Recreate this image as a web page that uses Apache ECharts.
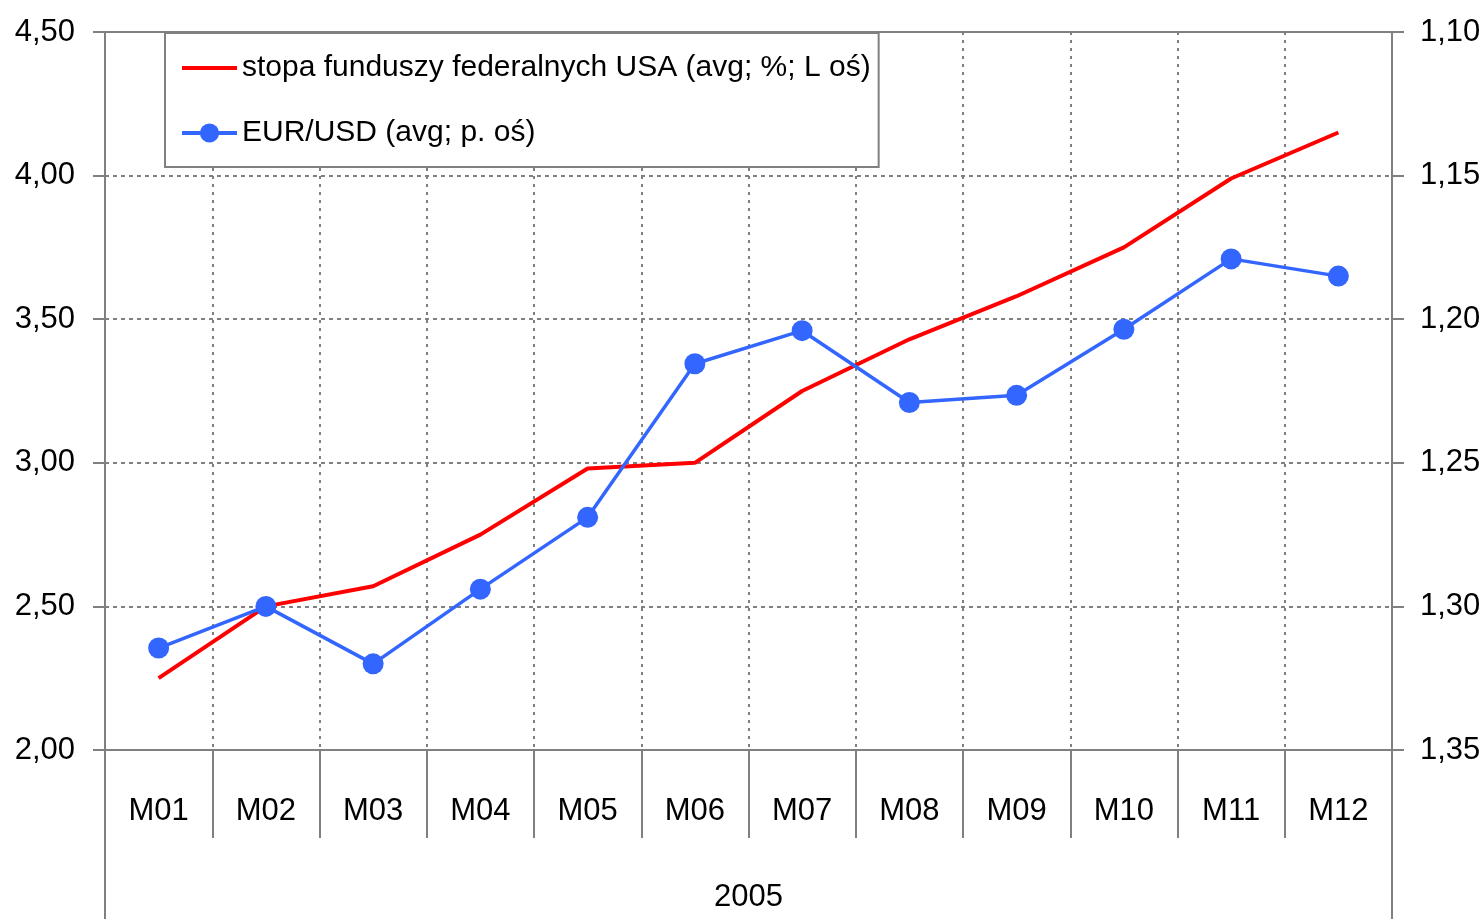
<!DOCTYPE html>
<html>
<head>
<meta charset="utf-8">
<title>Stopa FED vs EUR/USD 2005</title>
<script src="https://cdn.jsdelivr.net/npm/echarts@6/dist/echarts.min.js"></script>
<style>
    html, body { margin: 0; padding: 0; background: #fff; }
    #chart { width: 1482px; height: 919px; }
</style>
</head>
<body>
<div id="chart"></div>
<script>
// data
const months = ['M01', 'M02', 'M03', 'M04', 'M05', 'M06', 'M07', 'M08', 'M09', 'M10', 'M11', 'M12']
const yearLabel = ['2005']
const fedRate = [2.25, 2.50, 2.57, 2.75, 2.98, 3.00, 3.25, 3.43, 3.58, 3.75, 3.99, 4.15]
const eurUsd = [1.3145, 1.300, 1.320, 1.294, 1.269, 1.2155, 1.204, 1.229, 1.2265, 1.2035, 1.179, 1.185]
const seriesNames = ['stopa funduszy federalnych USA (avg; %; L oś)', 'EUR/USD (avg; p. oś)']

const font = "'Liberation Sans', Arial, sans-serif"
const gray = '#808080'
const comma = v => v.toFixed(2).replace('.', ',')

const myChart = echarts.init(document.getElementById('chart'))
const option = {
    animation: false,
    textStyle: { fontFamily: font },
    grid: {
        left: 105,
        right: 90,
        top: 32,
        bottom: 169,
        outerBoundsMode: 'none',
        containLabel: false,
        show: true,
        borderColor: gray,
        borderWidth: 2
    },
    legend: {
        orient: 'vertical',
        left: 165,
        top: 33,
        backgroundColor: '#fff',
        borderColor: gray,
        borderWidth: 2,
        borderRadius: 0,
        padding: [17, 8, 16, 15],
        itemGap: 29,
        itemWidth: 55,
        itemHeight: 24,
        textStyle: { fontSize: 30, lineHeight: 36, color: '#000', fontFamily: font },
        data: [
            { name: seriesNames[0], icon: 'path://M0,0 L55,0 L55,4 L0,4 Z' },
            { name: seriesNames[1], lineStyle: { width: 4 } }
        ]
    },
    xAxis: [
        {
            type: 'category',
            data: months,
            boundaryGap: true,
            axisLine: { lineStyle: { color: gray, width: 2 } },
            axisTick: { show: true, interval: 0, length: 88, lineStyle: { color: gray, width: 2 } },
            axisLabel: { interval: 0, margin: 46, fontSize: 31, color: '#000', fontFamily: font },
            splitLine: { show: true, interval: 0, lineStyle: { color: gray, width: 2, type: [3, 5] } }
        },
        {
            type: 'category',
            data: yearLabel,
            position: 'bottom',
            boundaryGap: true,
            axisLine: { show: false },
            axisTick: { show: true, length: 169, lineStyle: { color: gray, width: 2 } },
            axisLabel: { margin: 132, fontSize: 31, color: '#000', fontFamily: font },
            splitLine: { show: false }
        }
    ],
    yAxis: [
        {
            type: 'value',
            min: 2,
            max: 4.5,
            interval: 0.5,
            axisLine: { show: true, lineStyle: { color: gray, width: 2 } },
            axisTick: { show: true, length: 12, lineStyle: { color: gray, width: 2 } },
            axisLabel: { margin: 30, fontSize: 31, color: '#000', fontFamily: font, formatter: comma },
            splitLine: { show: true, lineStyle: { color: gray, width: 2, type: [4, 4] } }
        },
        {
            type: 'value',
            inverse: true,
            min: 1.10,
            max: 1.35,
            interval: 0.05,
            axisLine: { show: true, lineStyle: { color: gray, width: 2 } },
            axisTick: { show: true, length: 12, lineStyle: { color: gray, width: 2 } },
            axisLabel: { margin: 28, fontSize: 31, color: '#000', fontFamily: font, formatter: comma },
            splitLine: { show: false }
        }
    ],
    series: [
        {
            name: seriesNames[0],
            type: 'line',
            xAxisIndex: 0,
            yAxisIndex: 0,
            data: fedRate,
            symbol: 'none',
            lineStyle: { color: '#ff0000', width: 4 },
            itemStyle: { color: '#ff0000' },
            z: 3
        },
        {
            name: seriesNames[1],
            type: 'line',
            xAxisIndex: 0,
            yAxisIndex: 1,
            data: eurUsd,
            symbol: 'circle',
            symbolSize: 21,
            lineStyle: { color: '#3366ff', width: 3.5 },
            itemStyle: { color: '#3366ff' },
            z: 4
        }
    ]
}
option && myChart.setOption(option)
</script>
</body>
</html>
